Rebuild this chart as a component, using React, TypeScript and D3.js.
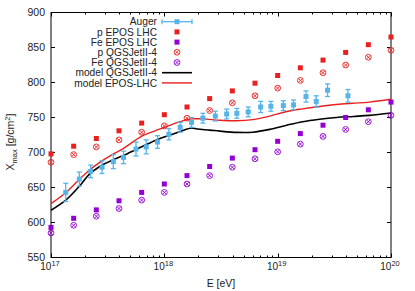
import * as d3 from "d3";

// simulation points, lg(E/eV)
const simLgE = [17.0, 17.2, 17.4, 17.6, 17.8, 18.0, 18.2, 18.4, 18.6, 18.8, 19.0, 19.2, 19.4, 19.6, 19.8, 20.0];
const pEpos = [698, 709, 720, 731, 742, 754, 765, 777, 788, 799, 810, 821, 832, 843, 854, 865];
const feEpos = [593, 606, 618, 631, 643, 655, 667, 680, 692, 704, 716, 727, 739, 750, 761, 772];
const pQgs = [686, 697, 708, 718, 729, 738, 749, 760, 771, 781, 792, 803, 814, 825, 836, 846];
const feQgs = [585, 596, 609, 620, 632, 643, 655, 667, 679, 691, 701, 712, 723, 733, 744, 753];

// Auger data
const augerLgE = [17.13, 17.25, 17.35, 17.45, 17.55, 17.64, 17.75, 17.84, 17.94, 18.04, 18.14, 18.24, 18.34, 18.45, 18.55, 18.64, 18.74, 18.85, 18.94, 19.05, 19.14, 19.25, 19.34, 19.44, 19.62];
const augerXmax = [643, 662, 673, 679, 687, 693, 705, 708, 715, 726, 736, 743, 749, 752, 755, 756, 758, 765, 766, 767, 768, 780, 773, 789, 781];
const augerErr = [13, 10, 9, 9, 10, 9, 10, 10, 9, 8, 7, 7, 7, 7, 7, 7, 7, 8, 7, 7, 7, 8, 8, 9, 9];

// model curves
const qgsModelLgE = [17.0, 17.13, 17.24, 17.34, 17.43, 17.55, 17.67, 17.81, 17.93, 18.05, 18.14, 18.24, 18.29, 18.4, 18.49, 18.64, 18.78, 18.93, 19.08, 19.22, 19.37, 19.52, 19.67, 19.81, 20.0];
const qgsModel = [617.5, 632, 650, 669, 680, 689.6, 698, 709, 718, 725, 730, 735, 733.5, 732, 730.5, 728.7, 729, 733, 739, 744, 747.5, 750, 751.5, 753, 756.5];
const eposModelLgE = [17.0, 17.13, 17.24, 17.34, 17.43, 17.54, 17.64, 17.74, 17.81, 17.92, 18.02, 18.14, 18.24, 18.34, 18.49, 18.64, 18.78, 18.93, 19.08, 19.22, 19.37, 19.52, 19.66, 19.81, 20.0];
const eposModel = [627, 642.5, 660, 675, 686, 697, 706, 717, 724, 731, 737, 744, 748, 748, 746, 745.3, 747, 752, 758.6, 762.4, 765.7, 768.5, 770.3, 772, 776];

const yTicks = [550, 600, 650, 700, 750, 800, 850, 900];
const xDecades = [17, 18, 19, 20];

const RED = "#e8201f";
const PURPLE = "#9400d3";
const BLUE = "#56b4e9";
const FONT = "Liberation Sans, Arial, sans-serif";

const x = d3.scaleLog().domain([1e17, 1e20]).range([51, 391]);
const y = d3.scaleLinear().domain([550, 900]).range([257.5, 12.5]);

const Square = ({ cx, cy, color }: { cx: number; cy: number; color: string }) => (
  <rect x={cx - 2.5} y={cy - 2.5} width={5} height={5} fill={color} />
);

const CrossCircle = ({ cx, cy, color }: { cx: number; cy: number; color: string }) => (
  <g stroke={color} strokeWidth={0.9} fill="none">
    <circle cx={cx} cy={cy} r={2.9} />
    <line x1={cx - 1.8} y1={cy - 1.8} x2={cx + 1.8} y2={cy + 1.8} />
    <line x1={cx - 1.8} y1={cy + 1.8} x2={cx + 1.8} y2={cy - 1.8} />
  </g>
);

export default function App() {
  const minor: number[] = [];
  for (let d = 17; d < 20; d++) for (let m = 2; m <= 9; m++) minor.push(m * Math.pow(10, d));

  const line = d3
    .line<[number, number]>()
    .x((p) => x(Math.pow(10, p[0])))
    .y((p) => y(p[1]))
    .curve(d3.curveCatmullRom.alpha(0.5));

  const qgsPath = line(qgsModelLgE.map((e, i) => [e, qgsModel[i]] as [number, number])) || "";
  const eposPath = line(eposModelLgE.map((e, i) => [e, eposModel[i]] as [number, number])) || "";

  const [x0, x1] = x.range();
  const [y0, y1] = y.range();

  const legend = [
    "Auger",
    "p EPOS LHC",
    "Fe EPOS LHC",
    "p QGSJetII-4",
    "Fe QGSJetII-4",
    "model QGSJetII-4",
    "model EPOS-LHC",
  ];
  const legY = (i: number) => 21.7 + i * 10.2;
  const lx = 177;

  return (
    <svg width={415} height={291} style={{ position: "absolute", left: 0, top: 0 }} fontFamily={FONT}>
      <rect width={415} height={291} fill="white" />

      {/* ticks */}
      <g stroke="black" strokeWidth={1}>
        {yTicks.map((t) => (
          <g key={t}>
            <line x1={x0} x2={x0 + 4} y1={y(t)} y2={y(t)} />
            <line x1={x1} x2={x1 - 4} y1={y(t)} y2={y(t)} />
          </g>
        ))}
        {xDecades.map((d) => (
          <g key={d}>
            <line x1={Math.round(x(Math.pow(10, d))) + 0.5} x2={Math.round(x(Math.pow(10, d))) + 0.5} y1={y0} y2={y0 - 4} />
            <line x1={Math.round(x(Math.pow(10, d))) + 0.5} x2={Math.round(x(Math.pow(10, d))) + 0.5} y1={y1} y2={y1 + 4} />
          </g>
        ))}
        {minor.map((m) => (
          <g key={m}>
            <line x1={Math.round(x(m)) + 0.5} x2={Math.round(x(m)) + 0.5} y1={y0} y2={y0 - 2} />
            <line x1={Math.round(x(m)) + 0.5} x2={Math.round(x(m)) + 0.5} y1={y1} y2={y1 + 2} />
          </g>
        ))}
      </g>

      {/* frame */}
      <rect x={x0} y={y1} width={x1 - x0} height={y0 - y1} fill="none" stroke="black" strokeWidth={1} />

      {/* y tick labels */}
      {yTicks.map((t) => (
        <text key={t} x={45} y={y(t) + 3.8} fontSize={10.5} textAnchor="end" fill="#222">
          {t}
        </text>
      ))}
      {/* x tick labels */}
      {xDecades.map((d) => (
        <text key={d} x={x(Math.pow(10, d)) - 1} y={269.5} fontSize={10} textAnchor="middle" fill="#222">
          10
          <tspan fontSize={7.5} dy={-4}>
            {d}
          </tspan>
        </text>
      ))}

      <text x={221} y={286.5} fontSize={10.5} textAnchor="middle" fill="#222">
        E [eV]
      </text>
      <text transform="translate(14,142) rotate(-90)" fontSize={10.5} textAnchor="middle" fill="#222">
        X
        <tspan fontSize={7.5} dy={2.5}>max</tspan>
        <tspan dy={-2.5}> [g/cm</tspan>
        <tspan fontSize={7.5} dy={-4}>2</tspan>
        <tspan dy={4}>]</tspan>
      </text>

      {/* model lines */}
      <path d={qgsPath} fill="none" stroke="black" strokeWidth={1.6} />
      <path d={eposPath} fill="none" stroke={RED} strokeWidth={1.4} />

      {/* simulations */}
      {simLgE.map((e, i) => (
        <g key={e}>
          <Square cx={x(Math.pow(10, e))} cy={y(pEpos[i])} color={RED} />
          <Square cx={x(Math.pow(10, e))} cy={y(feEpos[i])} color={PURPLE} />
          <CrossCircle cx={x(Math.pow(10, e))} cy={y(pQgs[i])} color={RED} />
          <CrossCircle cx={x(Math.pow(10, e))} cy={y(feQgs[i])} color={PURPLE} />
        </g>
      ))}

      {/* Auger data */}
      {augerLgE.map((e, i) => {
        const cx = x(Math.pow(10, e));
        const lo = y(augerXmax[i] - augerErr[i]);
        const hi = y(augerXmax[i] + augerErr[i]);
        return (
          <g key={e} stroke={BLUE} strokeWidth={1.3}>
            <line x1={cx} x2={cx} y1={lo} y2={hi} />
            <line x1={cx - 2.5} x2={cx + 2.5} y1={lo} y2={lo} />
            <line x1={cx - 2.5} x2={cx + 2.5} y1={hi} y2={hi} />
            <rect x={cx - 2.5} y={y(augerXmax[i]) - 2.5} width={5} height={5} fill={BLUE} stroke="none" />
          </g>
        );
      })}

      {/* legend */}
      {legend.map((l, i) => (
        <text key={l} x={157} y={legY(i) + 3.6} fontSize={10.2} textAnchor="end" fill="#222">
          {l}
        </text>
      ))}
      <g stroke={BLUE} strokeWidth={1.3}>
        <line x1={162} x2={192} y1={legY(0)} y2={legY(0)} />
        <line x1={162} x2={162} y1={legY(0) - 2.5} y2={legY(0) + 2.5} />
        <line x1={192} x2={192} y1={legY(0) - 2.5} y2={legY(0) + 2.5} />
        <rect x={lx - 2.5} y={legY(0) - 2.5} width={5} height={5} fill={BLUE} stroke="none" />
      </g>
      <Square cx={lx} cy={legY(1)} color={RED} />
      <Square cx={lx} cy={legY(2)} color={PURPLE} />
      <CrossCircle cx={lx} cy={legY(3)} color={RED} />
      <CrossCircle cx={lx} cy={legY(4)} color={PURPLE} />
      <line x1={162} x2={192} y1={legY(5)} y2={legY(5)} stroke="black" strokeWidth={1.6} />
      <line x1={162} x2={192} y1={legY(6)} y2={legY(6)} stroke={RED} strokeWidth={1.4} />
    </svg>
  );
}
